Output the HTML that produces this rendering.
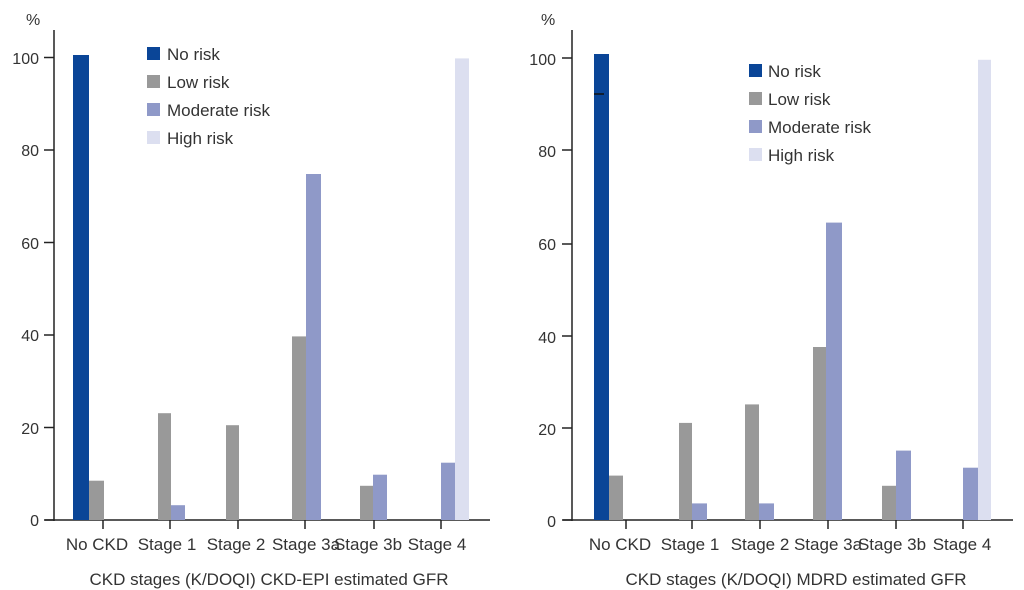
<!DOCTYPE html>
<html><head><meta charset="utf-8"><style>
html,body{margin:0;padding:0;background:#fff;}
svg{display:block;}
text{font-family:"Liberation Sans",sans-serif;fill:#333;}
</style></head><body>
<svg width="1024" height="590" viewBox="0 0 1024 590">
<defs></defs>
<!-- LEFT CHART -->
<g>
<text x="26" y="25" font-size="16">%</text>
<line x1="54" y1="30" x2="54" y2="521" stroke="#222" stroke-width="1.5"/>
<line x1="45" y1="520" x2="490" y2="520" stroke="#222" stroke-width="1.5"/>
<g stroke="#222" stroke-width="1.5">
<line x1="44" y1="520" x2="54" y2="520"/><line x1="44" y1="427.5" x2="54" y2="427.5"/>
<line x1="44" y1="335" x2="54" y2="335"/><line x1="44" y1="242.5" x2="54" y2="242.5"/>
<line x1="44" y1="150" x2="54" y2="150"/><line x1="44" y1="57.5" x2="54" y2="57.5"/>
<line x1="103" y1="520" x2="103" y2="529"/><line x1="170" y1="520" x2="170" y2="529"/>
<line x1="238" y1="520" x2="238" y2="529"/><line x1="305" y1="520" x2="305" y2="529"/>
<line x1="374" y1="520" x2="374" y2="529"/><line x1="441" y1="520" x2="441" y2="529"/>
</g>
<g font-size="16" text-anchor="end">
<text x="39" y="526">0</text><text x="39" y="434">20</text><text x="39" y="341">40</text>
<text x="39" y="249">60</text><text x="39" y="156">80</text><text x="39" y="64">100</text>
</g>
<rect x="73" y="55" width="16" height="465" fill="#0a4597"/>
<rect x="89" y="480.7" width="15" height="39.3" fill="#999"/>
<rect x="158" y="413.2" width="13" height="106.8" fill="#999"/>
<rect x="171" y="505.2" width="14" height="14.8" fill="#8f99c8"/>
<rect x="226" y="425.2" width="13" height="94.8" fill="#999"/>
<rect x="292" y="336.4" width="14" height="183.6" fill="#999"/>
<rect x="306" y="174" width="15" height="346" fill="#8f99c8"/>
<rect x="360" y="485.8" width="13" height="34.2" fill="#999"/>
<rect x="373" y="474.7" width="14" height="45.3" fill="#8f99c8"/>
<rect x="441" y="462.7" width="14" height="57.3" fill="#8f99c8"/>
<rect x="455" y="58.4" width="14" height="461.6" fill="#dcdff0"/>
<g font-size="17">
<rect x="147" y="47" width="13" height="13" fill="#0a4597"/><text x="167" y="60">No risk</text>
<rect x="147" y="75" width="13" height="13" fill="#999"/><text x="167" y="88">Low risk</text>
<rect x="147" y="103" width="13" height="13" fill="#8f99c8"/><text x="167" y="116">Moderate risk</text>
<rect x="147" y="131" width="13" height="13" fill="#dcdff0"/><text x="167" y="144">High risk</text>
</g>
<g font-size="17" text-anchor="middle">
<text x="97" y="550">No CKD</text><text x="167" y="550">Stage 1</text><text x="236" y="550">Stage 2</text>
<text x="306" y="550">Stage 3a</text><text x="368" y="550">Stage 3b</text><text x="437" y="550">Stage 4</text>
<text x="269" y="585">CKD stages (K/DOQI) CKD-EPI estimated GFR</text>
</g>
</g>
<!-- RIGHT CHART -->
<g>
<text x="541" y="25" font-size="16">%</text>
<line x1="572" y1="30" x2="572" y2="521" stroke="#222" stroke-width="1.5"/>
<line x1="563" y1="520" x2="1013" y2="520" stroke="#222" stroke-width="1.5"/>
<g stroke="#222" stroke-width="1.5">
<line x1="562" y1="520" x2="572" y2="520"/><line x1="562" y1="428" x2="572" y2="428"/>
<line x1="562" y1="336" x2="572" y2="336"/><line x1="562" y1="244" x2="572" y2="244"/>
<line x1="562" y1="150" x2="572" y2="150"/><line x1="562" y1="58" x2="572" y2="58"/>
<line x1="626" y1="520" x2="626" y2="529"/><line x1="692" y1="520" x2="692" y2="529"/>
<line x1="760" y1="520" x2="760" y2="529"/><line x1="828" y1="520" x2="828" y2="529"/>
<line x1="896" y1="520" x2="896" y2="529"/><line x1="963" y1="520" x2="963" y2="529"/>
</g>
<g font-size="16" text-anchor="end">
<text x="556" y="527">0</text><text x="556" y="435">20</text><text x="556" y="343">40</text>
<text x="556" y="250">60</text><text x="556" y="157">80</text><text x="556" y="65">100</text>
</g>
<rect x="594" y="54" width="15" height="466" fill="#0a4597"/>
<line x1="594" y1="94" x2="604" y2="94" stroke="#111" stroke-width="1.5"/>
<rect x="609" y="475.6" width="14" height="44.4" fill="#999"/>
<rect x="679" y="422.9" width="13" height="97.1" fill="#999"/>
<rect x="692" y="503.4" width="15" height="16.6" fill="#8f99c8"/>
<rect x="745" y="404.4" width="14" height="115.6" fill="#999"/>
<rect x="759" y="503.4" width="15" height="16.6" fill="#8f99c8"/>
<rect x="813" y="347" width="13" height="173" fill="#999"/>
<rect x="826" y="222.6" width="16" height="297.4" fill="#8f99c8"/>
<rect x="882" y="485.8" width="14" height="34.2" fill="#999"/>
<rect x="896" y="450.6" width="15" height="69.4" fill="#8f99c8"/>
<rect x="963" y="467.7" width="15" height="52.3" fill="#8f99c8"/>
<rect x="978" y="59.8" width="13" height="460.2" fill="#dcdff0"/>
<g font-size="17">
<rect x="749" y="64" width="13" height="13" fill="#0a4597"/><text x="768" y="77">No risk</text>
<rect x="749" y="92" width="13" height="13" fill="#999"/><text x="768" y="105">Low risk</text>
<rect x="749" y="120" width="13" height="13" fill="#8f99c8"/><text x="768" y="133">Moderate risk</text>
<rect x="749" y="148" width="13" height="13" fill="#dcdff0"/><text x="768" y="161">High risk</text>
</g>
<g font-size="17" text-anchor="middle">
<text x="620" y="550">No CKD</text><text x="690" y="550">Stage 1</text><text x="760" y="550">Stage 2</text>
<text x="828" y="550">Stage 3a</text><text x="892" y="550">Stage 3b</text><text x="962" y="550">Stage 4</text>
<text x="796" y="585">CKD stages (K/DOQI) MDRD estimated GFR</text>
</g>
</g>
</svg>
</body></html>
